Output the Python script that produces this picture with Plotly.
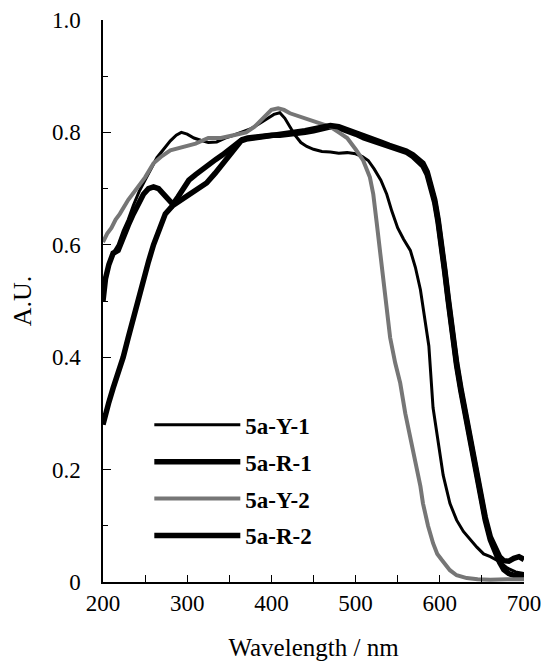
import plotly.graph_objects as go

# ---- data ----
y1_x = [200,204,208,212,218,224,230,236,243,250,257,264,272,280,287,293,300,308,316,325,335,345,355,365,375,385,395,403,410,416,422,428,435,442,450,460,470,480,490,500,508,515,522,530,537,543,550,557,565,571,577,582,587,592,598,604,612,620,628,636,644,652,660,671,680,690,700]
y1_y = [0.53,0.55,0.57,0.585,0.60,0.625,0.645,0.67,0.695,0.715,0.735,0.755,0.77,0.785,0.795,0.80,0.797,0.79,0.786,0.782,0.783,0.79,0.795,0.80,0.806,0.815,0.825,0.832,0.835,0.825,0.81,0.795,0.782,0.775,0.77,0.766,0.765,0.763,0.764,0.762,0.757,0.75,0.735,0.715,0.69,0.66,0.63,0.61,0.59,0.56,0.52,0.47,0.42,0.31,0.25,0.19,0.14,0.11,0.09,0.075,0.062,0.05,0.045,0.036,0.025,0.018,0.015]

y2_x = [200,205,210,215,220,230,240,250,260,270,280,290,300,310,325,340,355,370,380,390,400,408,415,422,430,440,450,461,470,480,490,500,509,517,521,525,529,533,537,541,547,553,559,565,569,573,577,580,586,592,597,602,607,612,620,632,645,660,680,700]
y2_y = [0.605,0.62,0.63,0.645,0.655,0.68,0.70,0.72,0.745,0.758,0.768,0.772,0.775,0.78,0.79,0.79,0.795,0.80,0.81,0.825,0.84,0.843,0.84,0.834,0.83,0.825,0.82,0.816,0.81,0.80,0.79,0.77,0.75,0.72,0.69,0.64,0.59,0.537,0.48,0.435,0.39,0.354,0.30,0.258,0.23,0.205,0.17,0.14,0.10,0.069,0.05,0.04,0.03,0.021,0.012,0.007,0.005,0.004,0.005,0.005]

r1_x = [200,203,207,212,218,224,230,236,242,248,254,260,266,272,278,283,289,295,302,310,318,326,334,342,350,358,365,372,380,390,400,410,420,430,440,450,460,470,480,490,500,510,520,530,540,550,560,568,575,580,585,590,594,598,602,606,610,615,620,625,630,636,642,648,654,660,666,671,676,682,688,694,700]
r1_y = [0.50,0.54,0.565,0.585,0.59,0.615,0.635,0.655,0.675,0.69,0.70,0.703,0.70,0.69,0.68,0.672,0.685,0.70,0.715,0.725,0.735,0.745,0.752,0.76,0.77,0.78,0.787,0.79,0.792,0.793,0.795,0.795,0.796,0.798,0.80,0.803,0.807,0.81,0.808,0.803,0.797,0.79,0.785,0.78,0.775,0.77,0.765,0.757,0.748,0.74,0.725,0.70,0.675,0.64,0.60,0.55,0.50,0.44,0.385,0.34,0.30,0.25,0.20,0.15,0.11,0.075,0.05,0.035,0.022,0.015,0.012,0.01,0.01]

r2_x = [200,203,207,212,218,224,230,236,242,248,254,260,266,274,283,293,303,313,323,333,340,346,352,358,364,370,380,390,400,410,420,430,440,450,460,470,480,490,500,510,520,530,540,550,560,568,575,580,585,590,594,598,602,606,610,615,620,625,630,636,642,648,654,660,666,671,676,682,688,694,700]
r2_y = [0.28,0.30,0.32,0.345,0.37,0.40,0.435,0.47,0.50,0.535,0.57,0.60,0.625,0.655,0.67,0.68,0.69,0.70,0.71,0.727,0.74,0.75,0.76,0.77,0.785,0.788,0.79,0.792,0.794,0.795,0.797,0.80,0.803,0.806,0.81,0.812,0.81,0.805,0.80,0.795,0.79,0.783,0.777,0.772,0.767,0.76,0.752,0.745,0.73,0.705,0.68,0.645,0.605,0.555,0.505,0.445,0.39,0.345,0.305,0.255,0.205,0.155,0.115,0.08,0.058,0.045,0.038,0.037,0.042,0.045,0.04]

names = ["5a-Y-1", "5a-R-1", "5a-Y-2", "5a-R-2"]
y_tick_vals = [0, 0.2, 0.4, 0.6, 0.8, 1.0]
y_tick_text = ["0", "0.2", "0.4", "0.6", "0.8", "1.0"]
x_tick_vals = [200, 300, 400, 500, 600, 700]

FONT = "Liberation Serif"

series = [
    (names[0], y1_x, y1_y, "#000000", 3),
    (names[1], r1_x, r1_y, "#000000", 5.5),
    (names[2], y2_x, y2_y, "#767676", 4),
    (names[3], r2_x, r2_y, "#000000", 5.5),
]

fig = go.Figure()
for i, (nm, xs, ys, col, w) in enumerate(series):
    fig.add_trace(go.Scatter(x=xs, y=ys, mode="lines", name=nm,
                             line=dict(color=col, width=w),
                             legendgroup=f"g{i}"))

# page body has an 8px margin, so the figure is 8px smaller than the window
fig.update_layout(
    width=541, height=653,
    margin=dict(l=95, r=25, t=12, b=79),
    paper_bgcolor="white", plot_bgcolor="white",
    font=dict(family=FONT, color="black", size=23),
    showlegend=True,
    legend=dict(x=0.11, y=0.318, xanchor="left", yanchor="top",
                bgcolor="rgba(0,0,0,0)", itemwidth=86,
                tracegroupgap=4,
                font=dict(family=FONT, size=23, color="black", weight="bold")),
    xaxis=dict(range=[200, 700], showline=True, linecolor="black", linewidth=1.5,
               mirror=False, showgrid=False, zeroline=False, automargin=False,
               tickmode="array", tickvals=x_tick_vals,
               ticks="inside", ticklen=7, tickcolor="black", tickwidth=1.2,
               ticklabelstandoff=0, ticklabeloverflow="allow",
               minor=dict(dtick=50, ticks="inside", ticklen=7, tickcolor="black", tickwidth=1.2),
               tickfont=dict(size=23, family=FONT),
               title=dict(text="Wavelength / nm", font=dict(size=25, family=FONT), standoff=30)),
    yaxis=dict(range=[0, 1.0], showline=True, linecolor="black", linewidth=1.5,
               mirror=False, showgrid=False, zeroline=False, automargin=False,
               tickmode="array", tickvals=y_tick_vals, ticktext=y_tick_text,
               ticks="inside", ticklen=8, tickcolor="black", tickwidth=1.2,
               ticklabelstandoff=16, ticklabeloverflow="allow",
               minor=dict(dtick=0.1, ticks="inside", ticklen=5, tickcolor="black", tickwidth=1),
               tickfont=dict(size=23, family=FONT),
               title=dict(text="A.U.", font=dict(size=26, family=FONT), standoff=14)),
)

fig.write_html("out.html")
